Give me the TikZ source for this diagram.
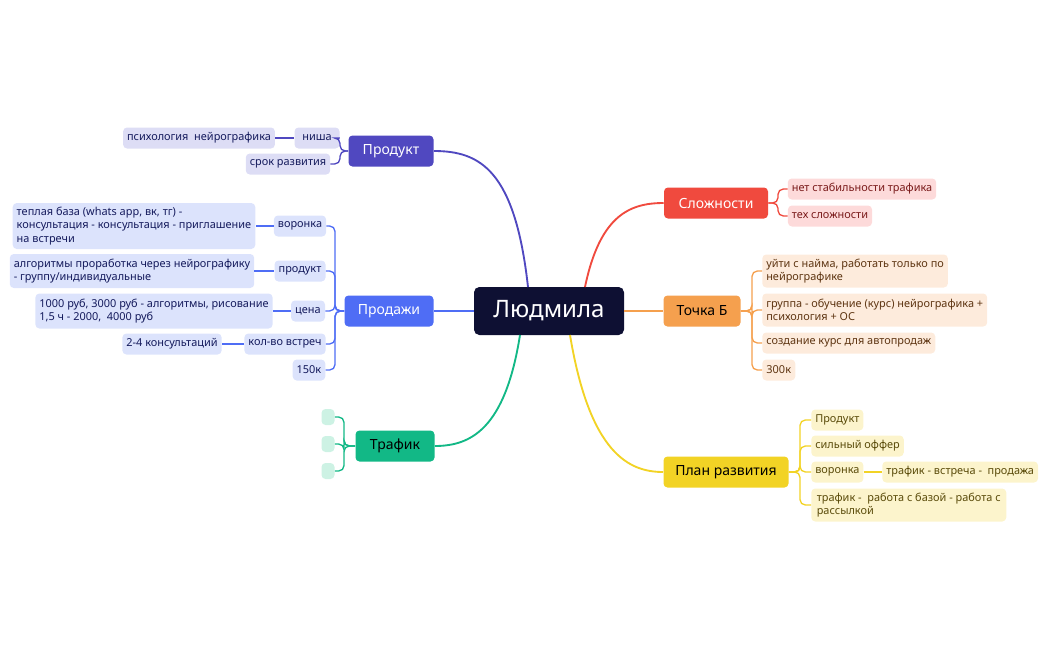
\documentclass[tikz,border=0pt]{standalone}
\usepackage{fontspec}
\setmainfont{Noto Sans}
\usetikzlibrary{calc}
\definecolor{cRoot}{HTML}{0E1033}
\definecolor{cPur}{HTML}{5048C0}\definecolor{cPurL}{HTML}{DDDDF5}
\definecolor{cBlu}{HTML}{4F6DF5}\definecolor{cBluL}{HTML}{DCE3FC}
\definecolor{cGrn}{HTML}{12B886}\definecolor{cGrnL}{HTML}{CDF2E4}
\definecolor{cRed}{HTML}{F04A3E}\definecolor{cRedL}{HTML}{FDDADA}
\definecolor{cOra}{HTML}{F5A04E}\definecolor{cOraL}{HTML}{FDEBDC}
\definecolor{cYel}{HTML}{F2D325}\definecolor{cYelL}{HTML}{FCF4CC}
\definecolor{tBlu}{HTML}{141A5C}\definecolor{tRed}{HTML}{7A1A1A}
\definecolor{tOra}{HTML}{5E3512}\definecolor{tYel}{HTML}{5A4B0A}
\tikzset{
 branch/.style={rounded corners=3pt, inner sep=2pt, minimum height=23.25pt, font=\fontsize{10.5}{12}\selectfont\bfseries},
 sub/.style={rounded corners=3pt, inner sep=3pt, minimum height=15.75pt, font=\fontsize{8.2}{10}\selectfont, align=left},
 lnk/.style={line width=1.4pt},
 slnk/.style={line width=1pt, rounded corners=4pt},
}
\begin{document}
\begin{tikzpicture}[x=0.75pt,y=-0.75pt]
\useasboundingbox (0,0) rectangle (1050,650);
% root
\node[fill=cRoot, text=white, rounded corners=4pt, minimum width=112.5pt, minimum height=36pt, font=\fontsize{18}{20}\selectfont] (root) at (549,311) {Людмила};
% branches
\node[branch, fill=cPur, text=white, minimum width=63.75pt] (prod) at (391,151) {Продукт};
\node[branch, fill=cBlu, text=white, minimum width=66.75pt] (sales) at (389,311) {Продажи};
\node[branch, fill=cGrn, text=black, minimum width=59.25pt] (traf) at (395,446) {Трафик};
\node[branch, fill=cRed, text=white, minimum width=78pt] (dif) at (716,203) {Сложности};
\node[branch, fill=cOra, text=black, minimum width=57.75pt] (pb) at (702,311) {Точка Б};
\node[branch, fill=cYel, text=black, minimum width=93.75pt] (plan) at (726,472) {План развития};
% root links
\draw[lnk, cPur] (528,287) .. controls (515,170) and (480,151) .. (prod.east);
\draw[lnk, cBlu] (root.west) -- (sales.east);
\draw[lnk, cGrn] (520,335) .. controls (505,430) and (470,446) .. (traf.east);
\draw[lnk, cRed] (585,287) .. controls (600,215) and (630,203) .. (dif.west);
\draw[lnk, cOra] (root.east) -- (pb.west);
\draw[lnk, cYel] (570,335) .. controls (590,455) and (630,472) .. (plan.west);
% Продукт children
\node[sub, fill=cPurL, text=tBlu, minimum width=33.75pt] (nisha) at (317,138) {ниша};
\node[sub, fill=cPurL, text=tBlu, minimum width=109.5pt] (psy) at (199,138) {психология\ \ нейрографика};
\node[sub, fill=cPurL, text=tBlu, minimum width=60.75pt] (srok) at (288,164) {срок развития};
\foreach \c in {nisha,srok} \draw[slnk, cPur] (prod.west) -- (340,151) |- (\c.east);
\draw[slnk, cPur] (nisha.west) -- (psy.east);
% Продажи children
\node[sub, fill=cBluL, text=tBlu, minimum width=36.75pt] (vor) at (300,226) {воронка};
\node[sub, fill=cBluL, text=tBlu, minimum width=177.75pt, minimum height=34.5pt] (vorT) at (134,226) {теплая база (whats app, вк, тг) -\\консультация - консультация - приглашение\\на встречи};
\node[sub, fill=cBluL, text=tBlu, minimum width=38.25pt] (pr) at (300,271) {продукт};
\node[sub, fill=cBluL, text=tBlu, minimum width=179.25pt, minimum height=25.5pt] (prT) at (132,271) {алгоритмы проработка через нейрографику\\- группу/индивидуальные};
\node[sub, fill=cBluL, text=tBlu, minimum width=25.5pt] (cena) at (308,311) {цена};
\node[sub, fill=cBluL, text=tBlu, minimum width=174pt, minimum height=26.25pt] (cenaT) at (154,311) {1000 руб, 3000 руб - алгоритмы, рисование\\1,5 ч - 2000,\ \ 4000 руб};
\node[sub, fill=cBluL, text=tBlu, minimum width=60pt] (kol) at (285,344) {кол-во встреч};
\node[sub, fill=cBluL, text=tBlu, minimum width=74.25pt] (kolT) at (172,344) {2-4 консультаций};
\node[sub, fill=cBluL, text=tBlu, minimum width=24pt] (k150) at (309,370) {150к};
\foreach \c in {vor,pr,cena,kol,k150} \draw[slnk, cBlu] (sales.west) -- (335,311) |- (\c.east);
\draw[slnk, cBlu] (vor.west) -- (vorT.east);
\draw[slnk, cBlu] (pr.west) -- (prT.east);
\draw[slnk, cBlu] (cena.west) -- (cenaT.east);
\draw[slnk, cBlu] (kol.west) -- (kolT.east);
% Трафик children
\node[sub, fill=cGrnL, minimum width=9.75pt, minimum height=12pt, inner sep=0pt] (g1) at (328,417) {};
\node[sub, fill=cGrnL, minimum width=9.75pt, minimum height=12pt, inner sep=0pt] (g2) at (328,444) {};
\node[sub, fill=cGrnL, minimum width=9.75pt, minimum height=12pt, inner sep=0pt] (g3) at (328,471) {};
\foreach \c in {g1,g2,g3} \draw[slnk, cGrn] (traf.west) -- (344,446) |- (\c.east);
% Сложности children
\node[sub, fill=cRedL, text=tRed, minimum width=109.5pt] (d1) at (862,189) {нет стабильности трафика};
\node[sub, fill=cRedL, text=tRed, minimum width=62.25pt] (d2) at (830,216) {тех сложности};
\foreach \c in {d1,d2} \draw[slnk, cRed] (dif.east) -- (778,203) |- (\c.west);
% Точка Б children
\node[sub, fill=cOraL, text=tOra, minimum width=136.5pt, minimum height=24.75pt, anchor=west] (o1) at (762,271) {уйти с найма, работать только по\\нейрографике};
\node[sub, fill=cOraL, text=tOra, minimum width=165.75pt, minimum height=24.75pt, anchor=west] (o2) at (762,310) {группа - обучение (курс) нейрографика +\\психология + ОС};
\node[sub, fill=cOraL, text=tOra, minimum width=126pt, anchor=west] (o3) at (762,343) {создание курс для автопродаж};
\node[sub, fill=cOraL, text=tOra, minimum width=24.75pt, anchor=west] (o4) at (762,370) {300к};
\foreach \c in {o1,o2,o3,o4} \draw[slnk, cOra] (pb.east) -- (752,311) |- (\c.west);
% План развития children
\node[sub, fill=cYelL, text=tYel, minimum width=38.25pt, anchor=west] (y1) at (811,420) {Продукт};
\node[sub, fill=cYelL, text=tYel, minimum width=69pt, anchor=west] (y2) at (811,446) {сильный оффер};
\node[sub, fill=cYelL, text=tYel, minimum width=37.5pt, anchor=west] (y3) at (811,472) {воронка};
\node[sub, fill=cYelL, text=tYel, minimum width=115.5pt, anchor=west] (y3b) at (882,472) {трафик - встреча -\ \ продажа};
\node[sub, fill=cYelL, text=tYel, minimum width=146.25pt, minimum height=24.75pt, anchor=west] (y4) at (811,505) {трафик -\ \ работа с базой - работа с\\рассылкой};
\foreach \c in {y1,y2,y3,y4} \draw[slnk, cYel] (plan.east) -- (800,472) |- (\c.west);
\draw[slnk, cYel] (y3.east) -- (y3b.west);
\end{tikzpicture}
\end{document}
